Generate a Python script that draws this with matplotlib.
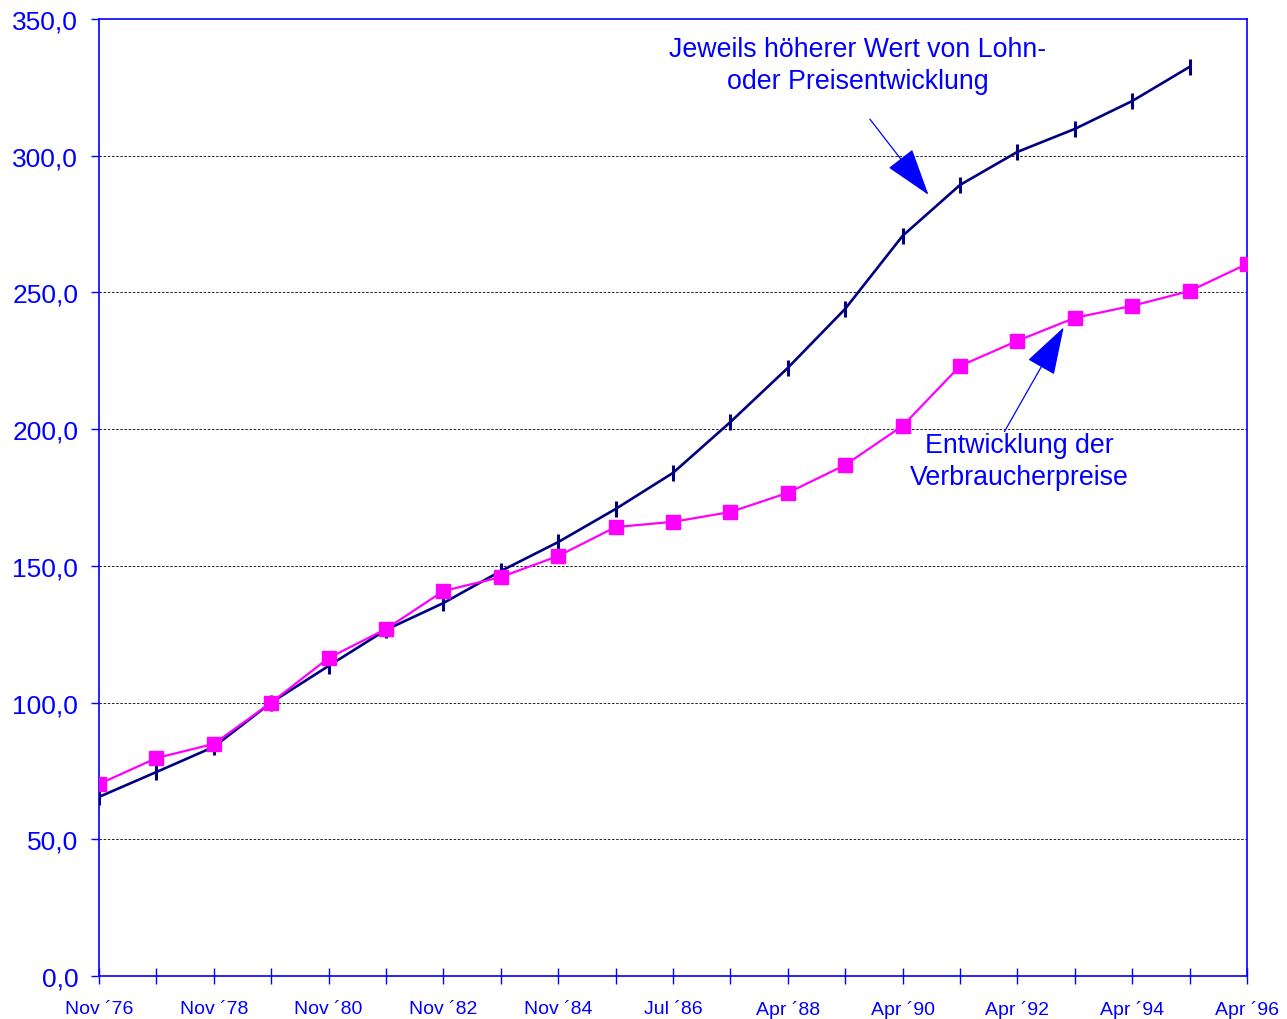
import numpy as np
import matplotlib.pyplot as plt

plt.rcParams['font.family'] = ['Liberation Sans', 'DejaVu Sans']

# Zeitpunkte (21 Stichtage) und Beschriftungen ──────────────────────────
stichtage = np.arange(21)
x_labels = ["Nov ´76", "", "Nov ´78", "", "Nov ´80", "", "Nov ´82", "",
            "Nov ´84", "", "Jul ´86", "", "Apr ´88", "", "Apr ´90", "",
            "Apr ´92", "", "Apr ´94", "", "Apr ´96"]

# Jeweils höherer Wert von Lohn- oder Preisentwicklung (bis Apr ´95)
lohn_preis = [65.5, 74.6, 83.8, 100.0, 113.4, 126.6, 136.4, 148.1, 158.7,
              170.8, 184.0, 202.6, 222.4, 244.0, 270.7, 289.3, 301.4,
              309.8, 320.0, 332.5]
# Entwicklung der Verbraucherpreise
verbraucher = [70.2, 79.7, 84.9, 100.0, 116.3, 126.9, 140.8, 145.9, 153.6,
               164.2, 166.1, 169.7, 176.7, 186.9, 201.2, 223.1, 232.3,
               240.7, 245.1, 250.5, 260.4]

y_ticks = [0, 50, 100, 150, 200, 250, 300, 350]

blau = "#0000ff"

fig = plt.figure(figsize=(12.87, 10.20), dpi=100)
ax = fig.add_axes([99/1287, 43/1020, 1148/1287, 957/1020])

ax.plot(stichtage[:len(lohn_preis)], lohn_preis, color="#000080", lw=1.9,
        marker="|", ms=11, mew=2.2, zorder=3)
ax.plot(stichtage, verbraucher, color="#ff00ff", lw=1.6,
        marker="s", ms=10, zorder=4)

ax.set_xlim(0, 20)
ax.set_ylim(0, 350)
ax.set_xticks(stichtage)
ax.set_xticklabels(x_labels, fontsize=14, color=blau)
ax.set_yticks(y_ticks)
ax.set_yticklabels([f"{v:.1f}".replace(".", ",") for v in y_ticks],
                   fontsize=19, color=blau)
ax.tick_params(axis="x", direction="inout", length=12, width=1,
               color=blau, pad=11)
ax.tick_params(axis="y", direction="out", length=6, width=1,
               color=blau, pad=9)

for s in ax.spines.values():
    s.set_color(blau)
    s.set_linewidth(1.2)

for v in y_ticks[1:-1]:
    ax.axhline(v, color="black", lw=0.6, ls=(0, (3, 2)), zorder=1)

# Beschriftungen mit Pfeilen
ax.text(13.22, 333.0, "Jeweils höherer Wert von Lohn-\noder Preisentwicklung",
        ha="center", va="center", fontsize=19.3, color=blau,
        linespacing=1.3)
ax.annotate("", xy=(14.48, 284.9), xytext=(13.40, 314.2),
            arrowprops=dict(arrowstyle="-|>,head_length=1.4,head_width=0.45",
                            color=blau, lw=0.9, mutation_scale=22))

ax.text(16.03, 188.3, "Entwicklung der\nVerbraucherpreise",
        ha="center", va="center", fontsize=19.3, color=blau,
        linespacing=1.3)
ax.annotate("", xy=(16.83, 238.1), xytext=(15.75, 198.2),
            arrowprops=dict(arrowstyle="-|>,head_length=1.4,head_width=0.45",
                            color=blau, lw=0.9, mutation_scale=22))

plt.savefig("out.png", dpi=100)
plt.close()
